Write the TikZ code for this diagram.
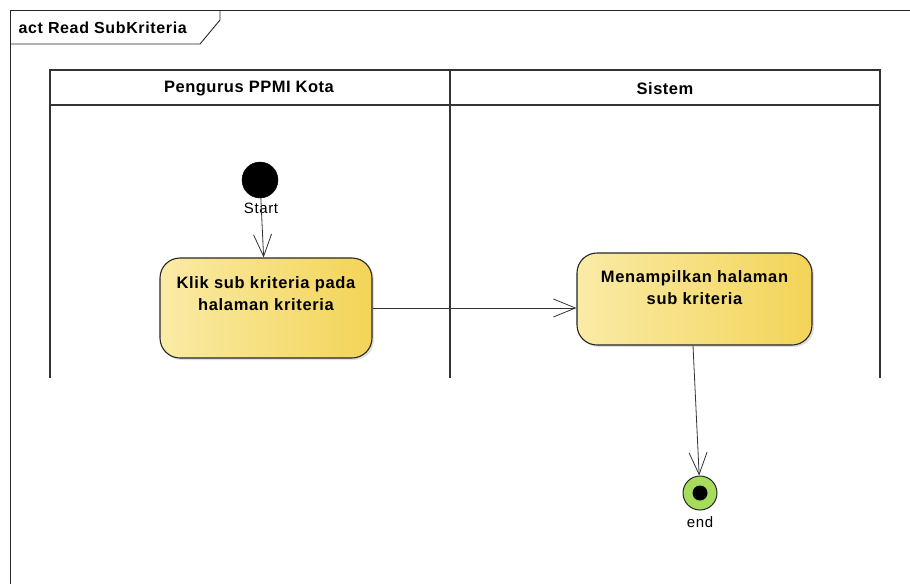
\documentclass[tikz,border=0pt]{standalone}
\usepackage{fontspec}
\setmainfont{Liberation Sans}
\usetikzlibrary{arrows.meta,shadows}
\definecolor{actL}{HTML}{FAEBA6}
\definecolor{actR}{HTML}{F3D458}
\definecolor{endG}{HTML}{A6DC5C}
\tikzset{
  frameline/.style={line width=0.9pt, draw=black!85},
  laneline/.style={line width=1.3pt, draw=black!80},
  activity/.style={rectangle, rounded corners=20pt, draw=black!85, line width=1.1pt,
    left color=actL, right color=actR, align=center,
    font=\bfseries\fontsize{16.5}{22}\selectfont\addfontfeatures{LetterSpace=4},
    inner sep=0pt, drop shadow={shadow xshift=2pt, shadow yshift=-2pt, opacity=0.25}},
  flow/.style={line width=0.8pt, draw=black!80, -{Straight Barb[length=22pt,width=18pt,line width=0.8pt]}},
  lanetitle/.style={font=\bfseries\fontsize{16.5}{18}\selectfont\addfontfeatures{LetterSpace=3}},
  smalllabel/.style={font=\fontsize{15}{16}\selectfont\addfontfeatures{LetterSpace=4}}
}
\begin{document}
\begin{tikzpicture}[x=1pt,y=-1pt]
\useasboundingbox[fill=white] (0,0) rectangle (910,584);
% diagram frame with name tab
\draw[frameline] (10,584) -- (10,10) -- (910,10);
\draw[frameline] (10,44) -- (200,44) -- (220,20) -- (220,10);
\node[anchor=west, font=\bfseries\fontsize{16}{18}\selectfont\addfontfeatures{LetterSpace=4}] (title) at (15,28) {act Read\ SubKriteria};
% swimlanes
\draw[laneline] (50,378) -- (50,70) -- (880,70) -- (880,378);
\draw[laneline] (50,105) -- (880,105);
\draw[laneline] (450,70) -- (450,378);
\node[lanetitle] (laneA) at (249,89) {Pengurus PPMI Kota};
\node[lanetitle] (laneB) at (665,89) {Sistem};
% nodes
\node[circle, fill=black, draw=black, minimum size=36pt, inner sep=0pt] (start) at (260,180) {};
\node[smalllabel] (startlbl) at (261,208) {Start};
\node[activity, minimum width=212pt, minimum height=100pt, text depth=28pt] (a1) at (266,308) {Klik sub kriteria pada\\halaman kriteria};
\node[activity, minimum width=235pt, minimum height=92pt, text depth=22pt] (a2) at (694.5,299) {Menampilkan halaman\\sub kriteria};
\node[circle, fill=endG, draw=black!85, line width=1pt, minimum size=34pt, inner sep=0pt] (end) at (700,493) {};
\node[circle, fill=black, minimum size=15pt, inner sep=0pt] (endcore) at (end) {};
\node[smalllabel] (endlbl) at (700,522) {end};
% flows
\draw[flow] (start) -- (a1);
\draw[flow] (a1) -- (a1.east -| a2.west);
\draw[flow] ([xshift=-1.5pt]a2.south) -- (end);
\end{tikzpicture}
\end{document}
